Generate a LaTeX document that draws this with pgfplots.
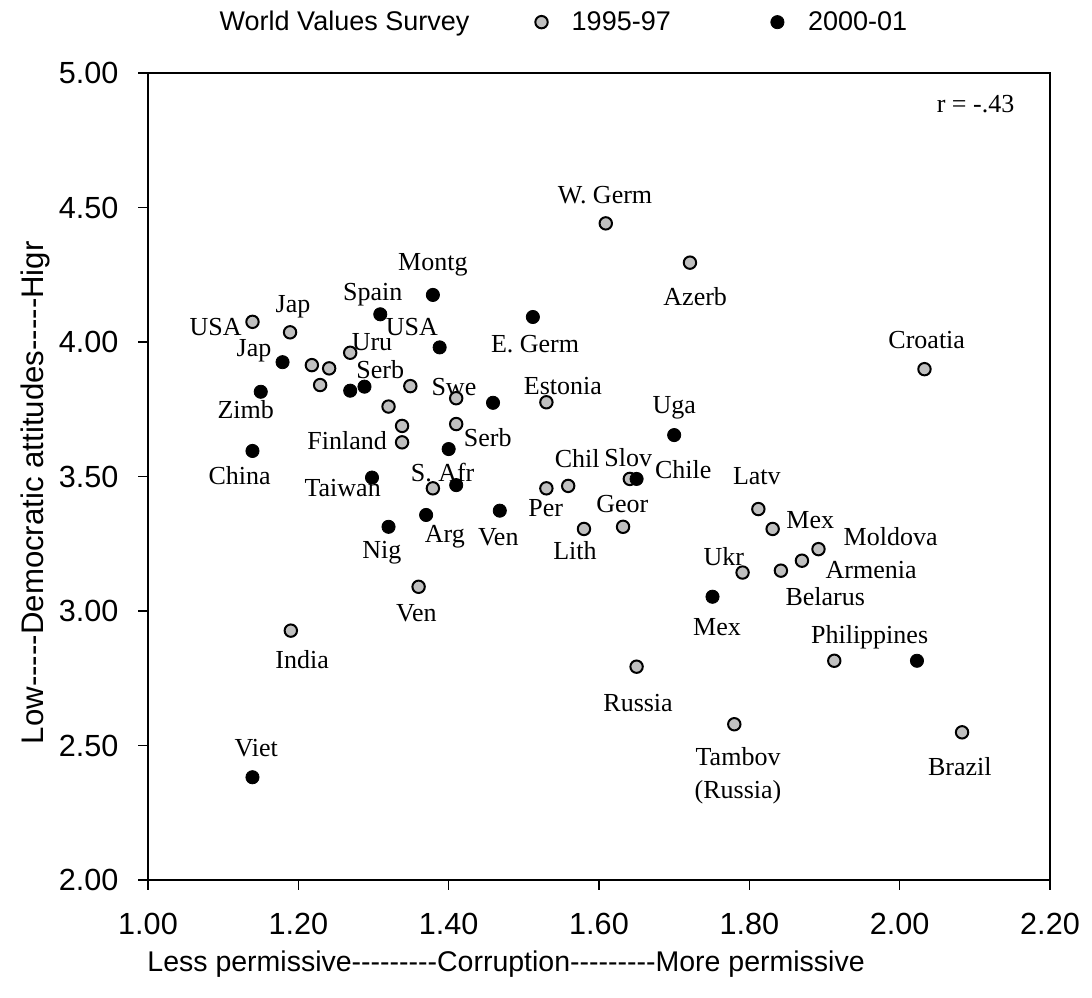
\documentclass[border=0pt]{standalone}
\usepackage{pgfplots}
\pgfplotsset{compat=1.18}
\usepackage{fontspec}
\setmainfont{Liberation Serif}
\newfontfamily\arial{Liberation Sans}
\definecolor{lgray}{RGB}{192,192,192}
\newcommand{\lab}{\fontsize{13}{16.5}\selectfont}
\begin{document}
\begin{tikzpicture}
\path[use as bounding box] (-74pt,-58.5pt) rectangle (472pt,440pt);
\begin{axis}[
  at={(0,0)}, anchor=south west,
  scale only axis, width=451pt, height=403.5pt,
  xmin=1, xmax=2.2, ymin=2, ymax=5,
  xtick={1,1.2,...,2.21}, ytick={2,2.5,...,5.01},
  xtick pos=bottom, ytick pos=left,
  tick align=outside,
  major tick length=4.8pt,
  axis line style={line width=0.8pt},
  every tick/.style={black, line width=0.8pt},
  /pgf/number format/assume math mode=true,
  /pgf/number format/fixed,
  /pgf/number format/fixed zerofill,
  /pgf/number format/precision=2,
  ticklabel style={font=\arial\fontsize{15.3}{18}\selectfont},
  xticklabel style={yshift=-8pt},
  yticklabel style={xshift=-6.5pt},
  xlabel={Less permissive---------Corruption---------More permissive},
  ylabel={Low-----Democratic attitudes-----Higr},
  xlabel style={font=\arial\fontsize{14.25}{17}\selectfont, at={(axis description cs:0.397,-0.1045)}, anchor=center},
  ylabel style={font=\arial\fontsize{15.6}{18}\selectfont, at={(axis description cs:-0.1253,0.48)}, anchor=center},
  legend columns=-1,
  legend style={draw=none, fill=none, at={(axis description cs:0.068,1.063)}, anchor=west,
    font=\arial\fontsize{13.5}{16}\selectfont,
    /tikz/column 2/.style={column sep=31pt},
    /tikz/column 3/.style={column sep=10pt},
    /tikz/column 4/.style={column sep=48pt},
    /tikz/column 5/.style={column sep=10pt}},
  clip=false,
]
\addlegendimage{empty legend}
\addlegendentry{World Values Survey}
\addplot[only marks, mark=*, mark size=3.1pt, mark options={fill=lgray, draw=black, line width=1pt}]
table[row sep=\\]{
x y\\
1.139 4.075\\
1.189 4.036\\
1.218 3.914\\
1.241 3.902\\
1.229 3.840\\
1.269 3.960\\
1.349 3.836\\
1.320 3.760\\
1.338 3.688\\
1.338 3.627\\
1.410 3.791\\
1.410 3.695\\
1.379 3.456\\
1.609 4.441\\
1.721 4.295\\
2.033 3.899\\
1.530 3.776\\
1.641 3.491\\
1.530 3.456\\
1.559 3.465\\
1.580 3.305\\
1.632 3.313\\
1.812 3.379\\
1.831 3.305\\
1.892 3.230\\
1.870 3.187\\
1.842 3.150\\
1.791 3.143\\
1.913 2.815\\
1.190 2.927\\
1.360 3.090\\
1.650 2.793\\
1.780 2.579\\
2.083 2.549\\
};
\addlegendentry{1995-97}
\addplot[only marks, mark=*, mark size=3.3pt, mark options={fill=black, draw=black}]
table[row sep=\\]{
x y\\
1.179 3.925\\
1.309 4.103\\
1.379 4.175\\
1.388 3.980\\
1.150 3.815\\
1.269 3.819\\
1.288 3.834\\
1.459 3.774\\
1.400 3.602\\
1.139 3.595\\
1.298 3.496\\
1.410 3.468\\
1.370 3.357\\
1.320 3.313\\
1.468 3.373\\
1.512 4.093\\
1.700 3.654\\
1.650 3.491\\
1.751 3.053\\
2.023 2.815\\
1.139 2.382\\
};
\addlegendentry{2000-01}
\begin{scope}[every node/.style={font=\lab, inner sep=0pt}]
\node at (axis cs:1.608,4.546) {W. Germ};
\node at (axis cs:1.728,4.167) {Azerb};
\node at (axis cs:2.036,4.007) {Croatia};
\node at (axis cs:1.379,4.286) {Montg};
\node at (axis cs:1.299,4.175) {Spain};
\node at (axis cs:1.090,4.056) {USA};
\node at (axis cs:1.193,4.130) {Jap};
\node at (axis cs:1.141,3.967) {Jap};
\node at (axis cs:1.351,4.056) {USA};
\node at (axis cs:1.515,3.993) {E. Germ};
\node at (axis cs:1.298,4.000) {Uru};
\node at (axis cs:1.309,3.896) {Serb};
\node at (axis cs:1.130,3.747) {Zimb};
\node at (axis cs:1.407,3.833) {Swe};
\node at (axis cs:1.552,3.836) {Estonia};
\node at (axis cs:1.700,3.755) {Uga};
\node at (axis cs:1.265,3.632) {Finland};
\node at (axis cs:1.452,3.643) {Serb};
\node at (axis cs:1.122,3.502) {China};
\node at (axis cs:1.259,3.457) {Taiwan};
\node at (axis cs:1.392,3.513) {S. Afr};
\node at (axis cs:1.571,3.565) {Chil};
\node at (axis cs:1.639,3.572) {Slov};
\node at (axis cs:1.712,3.524) {Chile};
\node at (axis cs:1.529,3.383) {Per};
\node at (axis cs:1.631,3.398) {Geor};
\node at (axis cs:1.568,3.223) {Lith};
\node at (axis cs:1.395,3.275) {Arg};
\node at (axis cs:1.466,3.275) {Ven};
\node at (axis cs:1.311,3.216) {Nig};
\node at (axis cs:1.810,3.502) {Latv};
\node at (axis cs:1.881,3.338) {Mex};
\node at (axis cs:1.988,3.275) {Moldova};
\node at (axis cs:1.962,3.152) {Armenia};
\node at (axis cs:1.901,3.052) {Belarus};
\node at (axis cs:1.766,3.201) {Ukr};
\node at (axis cs:1.757,2.941) {Mex};
\node at (axis cs:1.960,2.903) {Philippines};
\node at (axis cs:1.205,2.818) {India};
\node at (axis cs:1.357,2.993) {Ven};
\node at (axis cs:1.144,2.491) {Viet};
\node at (axis cs:1.652,2.658) {Russia};
\node[align=center] at (axis cs:1.785,2.388) {Tambov\\(Russia)};
\node at (axis cs:2.080,2.420) {Brazil};
\node at (axis cs:2.101,4.885) {r = -.43};
\end{scope}
\end{axis}
\end{tikzpicture}
\end{document}
